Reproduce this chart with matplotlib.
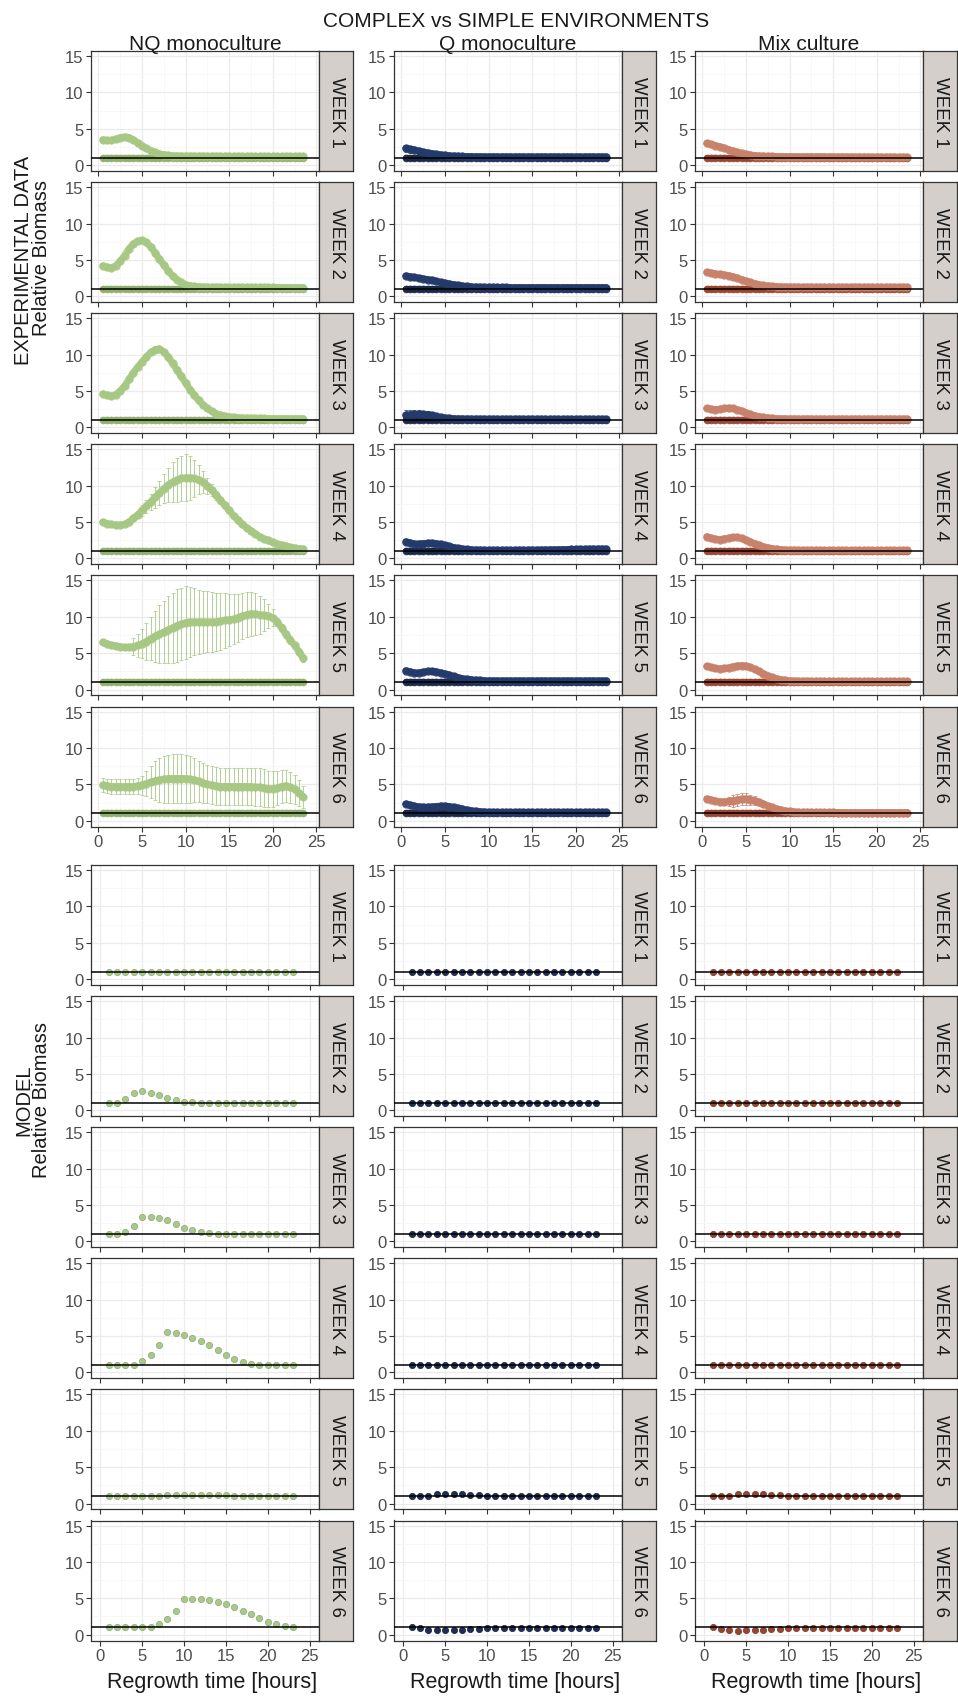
import matplotlib.pyplot as plt

plt.rcParams['font.family'] = ['Liberation Sans', 'DejaVu Sans']

# ---- data ----
CULTURES = ["NQ monoculture", "Q monoculture", "Mix culture"]
WEEKS = ["WEEK 1", "WEEK 2", "WEEK 3", "WEEK 4", "WEEK 5", "WEEK 6"]

# sampling times of the experiment (hours)
T_EXP = [0.5, 1.0, 1.5, 2.0, 2.5, 3.0, 3.5, 4.0, 4.5, 5.0,
         5.5, 6.0, 6.5, 7.0, 7.5, 8.0, 8.5, 9.0, 9.5, 10.0,
         10.5, 11.0, 11.5, 12.0, 12.5, 13.0, 13.5, 14.0, 14.5, 15.0,
         15.5, 16.0, 16.5, 17.0, 17.5, 18.0, 18.5, 19.0, 19.5, 20.0,
         20.5, 21.0, 21.5, 22.0, 22.5, 23.0, 23.5]
# model output times (hours)
T_MOD = [1, 2, 3, 4, 5, 6, 7, 8, 9, 10, 11, 12, 13, 14, 15, 16, 17, 18, 19, 20, 21, 22, 23]

# simple environment = reference level
SIMPLE_LEVEL = 1.0

# experimental, complex environment (relative biomass)
nq_w1 = [3.5, 3.4, 3.4, 3.6, 3.8, 3.9, 3.8, 3.5, 3.1, 2.7,
         2.3, 2.0, 1.75, 1.55, 1.45, 1.35, 1.3, 1.28, 1.26, 1.25,
         1.25, 1.24, 1.24, 1.23, 1.23, 1.23, 1.22, 1.22, 1.22, 1.22,
         1.21, 1.21, 1.21, 1.21, 1.2, 1.2, 1.2, 1.2, 1.2, 1.2,
         1.2, 1.2, 1.2, 1.2, 1.2, 1.2, 1.2]
nq_w2 = [4.2, 4.0, 3.9, 4.2, 4.8, 5.6, 6.5, 7.2, 7.6, 7.7,
         7.4, 6.8, 6.0, 5.1, 4.3, 3.5, 2.8, 2.3, 1.9, 1.6,
         1.45, 1.35, 1.3, 1.28, 1.26, 1.25, 1.25, 1.24, 1.24, 1.23,
         1.23, 1.23, 1.22, 1.22, 1.22, 1.22, 1.21, 1.21, 1.21, 1.21,
         1.2, 1.2, 1.2, 1.2, 1.2, 1.2, 1.2]
nq_w3 = [4.6, 4.4, 4.3, 4.5, 5.0, 5.7, 6.6, 7.5, 8.3, 9.0,
         9.7, 10.3, 10.7, 10.8, 10.4, 9.7, 8.8, 7.9, 7.0, 6.1,
         5.2, 4.4, 3.7, 3.1, 2.6, 2.2, 1.9, 1.7, 1.55, 1.45,
         1.38, 1.33, 1.3, 1.28, 1.26, 1.25, 1.24, 1.23, 1.22, 1.22,
         1.21, 1.21, 1.2, 1.2, 1.2, 1.2, 1.2]
nq_w4 = [5.0, 4.8, 4.7, 4.6, 4.6, 4.7, 5.0, 5.5, 6.0, 6.6,
         7.2, 7.8, 8.4, 9.0, 9.6, 10.1, 10.5, 10.8, 11.0, 11.1,
         11.1, 11.0, 10.8, 10.5, 10.0, 9.4, 8.7, 8.0, 7.3, 6.6,
         5.9, 5.3, 4.7, 4.2, 3.8, 3.4, 3.0, 2.7, 2.5, 2.2,
         2.0, 1.85, 1.7, 1.55, 1.45, 1.35, 1.3]
nq_w5 = [6.5, 6.3, 6.1, 6.0, 5.9, 5.8, 5.8, 5.9, 6.1, 6.3,
         6.6, 7.0, 7.3, 7.6, 7.9, 8.2, 8.5, 8.8, 9.0, 9.2,
         9.3, 9.3, 9.3, 9.3, 9.3, 9.3, 9.3, 9.4, 9.5, 9.6,
         9.7, 9.9, 10.1, 10.3, 10.4, 10.4, 10.3, 10.2, 10.1, 9.9,
         9.3, 8.5, 7.6, 6.8, 6.1, 5.2, 4.3]
nq_w6 = [4.9, 4.8, 4.7, 4.7, 4.7, 4.7, 4.7, 4.7, 4.8, 4.9,
         5.1, 5.3, 5.5, 5.6, 5.7, 5.8, 5.8, 5.8, 5.8, 5.8,
         5.7, 5.6, 5.4, 5.2, 5.0, 4.9, 4.8, 4.7, 4.7, 4.7,
         4.7, 4.7, 4.7, 4.7, 4.7, 4.6, 4.6, 4.5, 4.4, 4.4,
         4.5, 4.7, 4.8, 4.6, 4.3, 3.8, 3.3]

q_w1 = [2.3, 2.2, 2.1, 1.95, 1.8, 1.7, 1.6, 1.5, 1.42, 1.36,
        1.3, 1.26, 1.23, 1.2, 1.19, 1.18, 1.17, 1.17, 1.16, 1.16,
        1.16, 1.15, 1.15, 1.15, 1.15, 1.15, 1.15, 1.15, 1.15, 1.15,
        1.15, 1.15, 1.15, 1.15, 1.15, 1.15, 1.15, 1.15, 1.15, 1.15,
        1.15, 1.15, 1.15, 1.15, 1.15, 1.15, 1.15]
q_w2 = [2.8, 2.7, 2.6, 2.5, 2.4, 2.3, 2.2, 2.05, 1.9, 1.8,
        1.7, 1.6, 1.5, 1.42, 1.36, 1.3, 1.27, 1.25, 1.24, 1.23,
        1.22, 1.22, 1.21, 1.21, 1.2, 1.2, 1.2, 1.2, 1.2, 1.2,
        1.2, 1.2, 1.2, 1.2, 1.2, 1.2, 1.2, 1.2, 1.2, 1.2,
        1.2, 1.2, 1.2, 1.2, 1.2, 1.2, 1.2]
q_w3 = [1.7, 1.75, 1.8, 1.8, 1.8, 1.75, 1.65, 1.5, 1.38, 1.3,
        1.25, 1.2, 1.18, 1.17, 1.16, 1.15, 1.15, 1.14, 1.14, 1.14,
        1.13, 1.13, 1.13, 1.13, 1.13, 1.13, 1.13, 1.13, 1.13, 1.13,
        1.13, 1.13, 1.12, 1.12, 1.12, 1.12, 1.12, 1.12, 1.12, 1.12,
        1.12, 1.12, 1.12, 1.12, 1.12, 1.12, 1.12]
q_w4 = [2.3, 2.15, 2.0, 2.0, 2.05, 2.1, 2.1, 2.05, 1.95, 1.8,
        1.65, 1.5, 1.4, 1.32, 1.25, 1.2, 1.17, 1.15, 1.14, 1.13,
        1.13, 1.13, 1.13, 1.13, 1.13, 1.13, 1.14, 1.14, 1.15, 1.15,
        1.16, 1.17, 1.18, 1.19, 1.2, 1.21, 1.22, 1.23, 1.24, 1.25,
        1.26, 1.27, 1.28, 1.29, 1.3, 1.3, 1.3]
q_w5 = [2.6, 2.45, 2.3, 2.3, 2.4, 2.5, 2.5, 2.45, 2.3, 2.15,
        2.0, 1.8, 1.65, 1.52, 1.42, 1.35, 1.3, 1.26, 1.23, 1.21,
        1.2, 1.2, 1.2, 1.2, 1.2, 1.2, 1.2, 1.2, 1.2, 1.2,
        1.2, 1.2, 1.2, 1.2, 1.2, 1.2, 1.2, 1.2, 1.2, 1.2,
        1.2, 1.2, 1.2, 1.2, 1.2, 1.2, 1.2]
q_w6 = [2.3, 2.15, 2.0, 1.9, 1.85, 1.85, 1.9, 1.95, 2.0, 2.0,
        1.95, 1.85, 1.72, 1.6, 1.48, 1.38, 1.3, 1.24, 1.2, 1.17,
        1.15, 1.15, 1.15, 1.15, 1.15, 1.15, 1.15, 1.15, 1.15, 1.15,
        1.15, 1.15, 1.15, 1.15, 1.15, 1.15, 1.15, 1.15, 1.15, 1.15,
        1.15, 1.15, 1.15, 1.15, 1.15, 1.15, 1.15]

mix_w1 = [3.0, 2.85, 2.7, 2.55, 2.35, 2.15, 1.95, 1.78, 1.62, 1.5,
          1.4, 1.33, 1.28, 1.24, 1.21, 1.2, 1.19, 1.19, 1.18, 1.18,
          1.18, 1.17, 1.17, 1.17, 1.16, 1.16, 1.16, 1.15, 1.15, 1.15,
          1.15, 1.14, 1.14, 1.14, 1.13, 1.13, 1.13, 1.12, 1.12, 1.12,
          1.12, 1.11, 1.11, 1.11, 1.1, 1.1, 1.1]
mix_w2 = [3.3, 3.2, 3.1, 3.0, 2.95, 2.85, 2.7, 2.5, 2.3, 2.1,
          1.9, 1.75, 1.6, 1.5, 1.42, 1.37, 1.33, 1.3, 1.29, 1.28,
          1.27, 1.27, 1.26, 1.26, 1.26, 1.25, 1.25, 1.25, 1.25, 1.25,
          1.25, 1.25, 1.25, 1.25, 1.25, 1.25, 1.25, 1.25, 1.25, 1.25,
          1.25, 1.25, 1.25, 1.25, 1.25, 1.25, 1.25]
mix_w3 = [2.6, 2.5, 2.45, 2.5, 2.6, 2.65, 2.6, 2.45, 2.25, 2.0,
          1.8, 1.62, 1.48, 1.38, 1.3, 1.25, 1.21, 1.19, 1.18, 1.17,
          1.17, 1.16, 1.16, 1.16, 1.16, 1.15, 1.15, 1.15, 1.15, 1.15,
          1.15, 1.15, 1.15, 1.15, 1.15, 1.15, 1.15, 1.15, 1.15, 1.15,
          1.15, 1.15, 1.15, 1.15, 1.15, 1.15, 1.15]
mix_w4 = [3.0, 2.8, 2.65, 2.6, 2.7, 2.8, 2.9, 2.9, 2.75, 2.55,
          2.3, 2.05, 1.82, 1.62, 1.48, 1.37, 1.28, 1.22, 1.18, 1.15,
          1.14, 1.13, 1.13, 1.12, 1.12, 1.12, 1.11, 1.11, 1.11, 1.11,
          1.1, 1.1, 1.1, 1.1, 1.1, 1.1, 1.1, 1.1, 1.1, 1.1,
          1.1, 1.1, 1.1, 1.1, 1.1, 1.1, 1.1]
mix_w5 = [3.2, 3.05, 2.9, 2.85, 2.9, 3.0, 3.15, 3.25, 3.3, 3.25,
          3.05, 2.8, 2.5, 2.2, 1.9, 1.68, 1.5, 1.37, 1.28, 1.22,
          1.18, 1.16, 1.15, 1.15, 1.14, 1.14, 1.14, 1.13, 1.13, 1.13,
          1.13, 1.13, 1.12, 1.12, 1.12, 1.12, 1.12, 1.12, 1.12, 1.12,
          1.12, 1.12, 1.12, 1.12, 1.12, 1.12, 1.12]
mix_w6 = [3.0, 2.85, 2.7, 2.6, 2.6, 2.65, 2.75, 2.85, 2.95, 3.0,
          2.9, 2.75, 2.55, 2.3, 2.05, 1.82, 1.62, 1.47, 1.35, 1.27,
          1.21, 1.17, 1.15, 1.15, 1.14, 1.14, 1.13, 1.13, 1.13, 1.13,
          1.12, 1.12, 1.12, 1.12, 1.12, 1.12, 1.12, 1.12, 1.12, 1.12,
          1.12, 1.12, 1.12, 1.12, 1.12, 1.12, 1.12]

# error bars (only where visible)
nq_w4_err = [0.2, 0.2, 0.2, 0.2, 0.2, 0.2, 0.3, 0.4, 0.5, 0.7,
             0.9, 1.1, 1.4, 1.7, 2.0, 2.4, 2.7, 3.0, 3.1, 3.2,
             3.0, 2.6, 2.0, 1.5, 1.1, 0.8, 0.6, 0.5, 0.4, 0.4,
             0.3, 0.3, 0.3, 0.3, 0.3, 0.2, 0.2, 0.2, 0.2, 0.2,
             0.2, 0.2, 0.2, 0.2, 0.2, 0.2, 0.2]
nq_w5_err = [0.3, 0.3, 0.3, 0.3, 0.3, 0.3, 0.3, 1.2, 1.6, 2.0,
             2.5, 3.0, 3.5, 4.0, 4.3, 4.6, 4.8, 5.0, 5.0, 5.0,
             4.8, 4.6, 4.4, 4.3, 4.2, 4.1, 4.0, 3.9, 3.8, 3.6,
             3.4, 3.3, 3.2, 3.1, 3.0, 2.9, 2.6, 2.2, 1.7, 1.2,
             0.6, 0.5, 0.5, 0.5, 0.5, 0.5, 0.5]
nq_w6_err = [1.0, 1.0, 1.0, 1.0, 1.0, 1.0, 1.0, 1.0, 1.1, 1.3,
             1.7, 2.2, 2.7, 3.0, 3.2, 3.3, 3.4, 3.4, 3.4, 3.3,
             3.2, 3.0, 2.8, 2.7, 2.6, 2.6, 2.6, 2.6, 2.6, 2.6,
             2.6, 2.6, 2.6, 2.6, 2.6, 2.6, 2.6, 2.6, 2.5, 2.5,
             2.4, 2.3, 2.2, 2.1, 2.0, 1.8, 1.5]
q_w1_err = [0.5, 0.5, 0.4, 0.4, 0.3, 0.3, 0.25, 0.2, 0.2, 0.15,
            0.1, 0.1, 0.1, 0.1, 0.1, 0.1, 0.1, 0.1, 0.1, 0.1,
            0.1, 0.1, 0.1, 0.1, 0.1, 0.1, 0.1, 0.1, 0.1, 0.1,
            0.1, 0.1, 0.1, 0.1, 0.1, 0.1, 0.1, 0.1, 0.1, 0.1,
            0.1, 0.1, 0.1, 0.1, 0.1, 0.1, 0.1]
q_w3_err = [0.7, 0.7, 0.6, 0.6, 0.5, 0.5, 0.4, 0.3, 0.25, 0.2,
            0.15, 0.1, 0.1, 0.1, 0.1, 0.1, 0.1, 0.1, 0.1, 0.1,
            0.1, 0.1, 0.1, 0.1, 0.1, 0.1, 0.1, 0.1, 0.1, 0.1,
            0.1, 0.1, 0.1, 0.1, 0.1, 0.1, 0.1, 0.1, 0.1, 0.1,
            0.1, 0.1, 0.1, 0.1, 0.1, 0.1, 0.1]
mix_w6_err = [0.2, 0.2, 0.2, 0.2, 0.4, 0.6, 0.8, 0.8, 0.8, 0.8,
              0.7, 0.6, 0.5, 0.4, 0.3, 0.2, 0.15, 0.1, 0.1, 0.1,
              0.1, 0.1, 0.1, 0.1, 0.1, 0.1, 0.1, 0.1, 0.1, 0.1,
              0.1, 0.1, 0.1, 0.1, 0.1, 0.1, 0.1, 0.1, 0.1, 0.1,
              0.1, 0.1, 0.1, 0.1, 0.1, 0.1, 0.1]

# model (relative biomass)
nq_m1 = [1.0, 1.0, 1.0, 1.0, 1.0, 1.0, 1.0, 1.0, 1.0, 1.0, 1.0, 1.0,
         1.0, 1.0, 1.0, 1.0, 1.0, 1.0, 1.0, 1.0, 1.0, 1.0, 1.0]
nq_m2 = [1.0, 1.0, 1.5, 2.4, 2.6, 2.4, 2.1, 1.75, 1.4, 1.2, 1.1, 1.05,
         1.0, 1.0, 1.0, 1.0, 1.0, 1.0, 1.0, 1.0, 1.0, 1.0, 1.0]
nq_m3 = [1.0, 1.0, 1.25, 2.1, 3.3, 3.4, 3.2, 2.9, 2.4, 1.9, 1.5, 1.25,
         1.1, 1.05, 1.0, 1.0, 1.0, 1.0, 1.0, 1.0, 1.0, 1.0, 1.0]
nq_m4 = [1.0, 1.0, 1.0, 1.0, 1.6, 2.4, 3.8, 5.5, 5.4, 5.1, 4.7, 4.3,
         3.8, 3.1, 2.45, 1.85, 1.4, 1.15, 1.05, 1.0, 1.0, 1.0, 1.0]
nq_m5 = [1.0, 1.0, 1.0, 1.0, 1.0, 1.0, 1.05, 1.15, 1.2, 1.2, 1.2, 1.2,
         1.2, 1.2, 1.15, 1.1, 1.05, 1.0, 1.0, 1.0, 1.0, 1.0, 1.0]
nq_m6 = [1.0, 1.0, 1.0, 1.0, 1.0, 1.0, 1.4, 2.1, 3.3, 4.9, 4.9, 4.85,
         4.7, 4.5, 4.2, 3.8, 3.3, 2.8, 2.3, 1.8, 1.4, 1.15, 1.0]

q_m1 = [1.0, 1.0, 1.0, 1.0, 1.0, 1.0, 1.0, 1.0, 1.0, 1.0, 1.0, 1.0,
        1.0, 1.0, 1.0, 1.0, 1.0, 1.0, 1.0, 1.0, 1.0, 1.0, 1.0]
q_m2 = [1.0, 1.0, 1.0, 1.0, 1.0, 1.0, 1.0, 1.0, 1.0, 1.0, 1.0, 1.0,
        1.0, 1.0, 1.0, 1.0, 1.0, 1.0, 1.0, 1.0, 1.0, 1.0, 1.0]
q_m3 = [1.0, 1.0, 1.0, 1.0, 1.0, 1.0, 1.0, 1.0, 1.0, 1.0, 1.0, 1.0,
        1.0, 1.0, 1.0, 1.0, 1.0, 1.0, 1.0, 1.0, 1.0, 1.0, 1.0]
q_m4 = [1.0, 1.0, 1.0, 1.0, 1.0, 1.0, 1.0, 1.0, 1.0, 1.0, 1.0, 1.0,
        1.0, 1.0, 1.0, 1.0, 1.0, 1.0, 1.0, 1.0, 1.0, 1.0, 1.0]
q_m5 = [1.0, 1.0, 1.1, 1.25, 1.3, 1.3, 1.25, 1.2, 1.15, 1.1, 1.1, 1.05,
        1.05, 1.05, 1.0, 1.0, 1.0, 1.0, 1.0, 1.0, 1.0, 1.0, 1.0]
q_m6 = [1.1, 0.85, 0.65, 0.6, 0.6, 0.62, 0.68, 0.75, 0.8, 0.85, 0.88, 0.9,
        0.92, 0.94, 0.95, 0.96, 0.97, 0.97, 0.98, 0.98, 0.98, 0.98, 0.98]

mix_m1 = [1.0, 1.0, 1.0, 1.0, 1.0, 1.0, 1.0, 1.0, 1.0, 1.0, 1.0, 1.0,
          1.0, 1.0, 1.0, 1.0, 1.0, 1.0, 1.0, 1.0, 1.0, 1.0, 1.0]
mix_m2 = [1.0, 1.0, 1.0, 1.0, 1.0, 1.0, 1.0, 1.0, 1.0, 1.0, 1.0, 1.0,
          1.0, 1.0, 1.0, 1.0, 1.0, 1.0, 1.0, 1.0, 1.0, 1.0, 1.0]
mix_m3 = [1.0, 1.0, 1.0, 1.0, 1.0, 1.0, 1.0, 1.0, 1.0, 1.0, 1.0, 1.0,
          1.0, 1.0, 1.0, 1.0, 1.0, 1.0, 1.0, 1.0, 1.0, 1.0, 1.0]
mix_m4 = [1.0, 1.0, 1.0, 1.0, 1.0, 1.0, 1.0, 1.0, 1.0, 1.0, 1.0, 1.0,
          1.0, 1.0, 1.0, 1.0, 1.0, 1.0, 1.0, 1.0, 1.0, 1.0, 1.0]
mix_m5 = [1.0, 1.0, 1.1, 1.25, 1.3, 1.3, 1.25, 1.2, 1.15, 1.1, 1.1, 1.05,
          1.05, 1.05, 1.05, 1.0, 1.0, 1.0, 1.0, 1.0, 1.0, 1.0, 1.0]
mix_m6 = [1.1, 0.8, 0.6, 0.55, 0.6, 0.65, 0.7, 0.75, 0.8, 0.85, 0.88, 0.9,
          0.92, 0.94, 0.95, 0.96, 0.97, 0.97, 0.98, 0.98, 0.98, 0.98, 0.98]

exp_data = [[nq_w1, nq_w2, nq_w3, nq_w4, nq_w5, nq_w6],
            [q_w1, q_w2, q_w3, q_w4, q_w5, q_w6],
            [mix_w1, mix_w2, mix_w3, mix_w4, mix_w5, mix_w6]]
exp_err = [[None, None, None, nq_w4_err, nq_w5_err, nq_w6_err],
           [q_w1_err, None, q_w3_err, None, None, None],
           [None, None, None, None, None, mix_w6_err]]
mod_data = [[nq_m1, nq_m2, nq_m3, nq_m4, nq_m5, nq_m6],
            [q_m1, q_m2, q_m3, q_m4, q_m5, q_m6],
            [mix_m1, mix_m2, mix_m3, mix_m4, mix_m5, mix_m6]]

EXP_COL = ['#a6c883', '#243a6b', '#c8816a']
BASE_COL = ['#8fb06c', '#1a2848', '#9a4532']
MOD_COL = ['#a9c98c', '#1f2d55', '#944532']
MOD_EDGE = ['#8aa86c', '#141f3c', '#7a3424']

# ---- layout (pixels) ----
W, H = 958, 1699
COL_X = [91, 394, 695]
PANEL_W = 228
STRIP_W = 34
PANEL_H = 120
EXP_TOP, MOD_TOP = 52, 866
PITCH = 131.1
TEXT_C = '#1a1a1a'
TICK_C = '#4d4d4d'

fig = plt.figure(figsize=(W / 100, H / 100), dpi=100)


def px_axes(x, y, w, h):
    return fig.add_axes([x / W, 1 - (y + h) / H, w / W, h / H])


def style_panel(ax, xlim, show_x):
    ax.set_xlim(*xlim)
    ax.set_ylim(-0.8, 15.7)
    ax.set_xticks([0, 5, 10, 15, 20, 25])
    ax.set_xticks([2.5, 7.5, 12.5, 17.5, 22.5], minor=True)
    ax.set_yticks([0, 5, 10, 15])
    ax.set_yticks([2.5, 7.5, 12.5], minor=True)
    ax.grid(which='major', color='#ebebeb', lw=0.9, zorder=0)
    ax.grid(which='minor', color='#f5f5f5', lw=0.5, zorder=0)
    ax.set_axisbelow(True)
    for s in ax.spines.values():
        s.set_color('#333333')
        s.set_linewidth(0.9)
    ax.tick_params(which='major', length=3.5, width=0.8, color='#333333',
                   labelsize=12, labelcolor=TICK_C, pad=2)
    ax.tick_params(which='minor', length=0)
    if not show_x:
        ax.tick_params(axis='x', labelbottom=False)
    ax.axhline(SIMPLE_LEVEL, color='black', lw=1.1, zorder=6)


def add_strip(x, y, label):
    sa = px_axes(x + PANEL_W, y, STRIP_W, PANEL_H)
    sa.set_facecolor('#d5cfcb')
    sa.set_xticks([])
    sa.set_yticks([])
    for s in sa.spines.values():
        s.set_color('#333333')
        s.set_linewidth(0.9)
    sa.text(0.5, 0.5, label, rotation=-90, ha='center', va='center',
            fontsize=13.5, color=TEXT_C, transform=sa.transAxes)


for c in range(3):
    x0 = COL_X[c]
    for r in range(6):
        # experimental block
        y0 = EXP_TOP + r * PITCH
        ax = px_axes(x0, y0, PANEL_W, PANEL_H)
        style_panel(ax, (-0.85, 25.3), r == 5)
        base = [SIMPLE_LEVEL] * len(T_EXP)
        ax.plot(T_EXP, base, '-o', lw=4.5, ms=5.5, color=BASE_COL[c], mew=0,
                alpha=0.9, solid_capstyle='round', zorder=3)
        err = exp_err[c][r]
        if err is not None:
            ax.errorbar(T_EXP, exp_data[c][r], yerr=err, fmt='none', ecolor=EXP_COL[c],
                        elinewidth=0.7, capsize=1.5, capthick=0.6, alpha=0.85, zorder=4)
        ax.plot(T_EXP, exp_data[c][r], '-o', lw=5, ms=6, color=EXP_COL[c], mew=0,
                alpha=0.9, solid_capstyle='round', zorder=5)
        add_strip(x0, y0, WEEKS[r])

        # model block
        y1 = MOD_TOP + r * PITCH
        ax = px_axes(x0, y1, PANEL_W, PANEL_H)
        style_panel(ax, (-1.1, 26.1), r == 5)
        ax.plot(T_MOD, mod_data[c][r], 'o', ms=4.5, color=MOD_COL[c], mew=0.5,
                mec=MOD_EDGE[c], zorder=5)
        add_strip(x0, y1, WEEKS[r])

    # column headings and x labels
    cx = (x0 + PANEL_W / 2) / W
    fig.text(cx, 1 - 50 / H, CULTURES[c], ha='center', va='baseline',
             fontsize=15, color=TEXT_C)
    fig.text(cx + 7 / W, 1 - 1688 / H, "Regrowth time [hours]", ha='center',
             va='baseline', fontsize=15.5, color=TEXT_C)

fig.text(516 / W, 1 - 27 / H, "COMPLEX vs SIMPLE ENVIRONMENTS", ha='center',
         va='baseline', fontsize=15, color=TEXT_C)

fig.text(24 / W, 1 - 260 / H, "EXPERIMENTAL DATA", rotation=90, ha='center',
         va='center', fontsize=14.5, color=TEXT_C)
fig.text(42 / W, 1 - 258 / H, "Relative Biomass", rotation=90, ha='center',
         va='center', fontsize=14.5, color=TEXT_C)
fig.text(24 / W, 1 - 1100 / H, "MODEL", rotation=90, ha='center',
         va='center', fontsize=14.5, color=TEXT_C)
fig.text(42 / W, 1 - 1100 / H, "Relative Biomass", rotation=90, ha='center',
         va='center', fontsize=14.5, color=TEXT_C)

fig.savefig("out.png", dpi=100, facecolor='white')
